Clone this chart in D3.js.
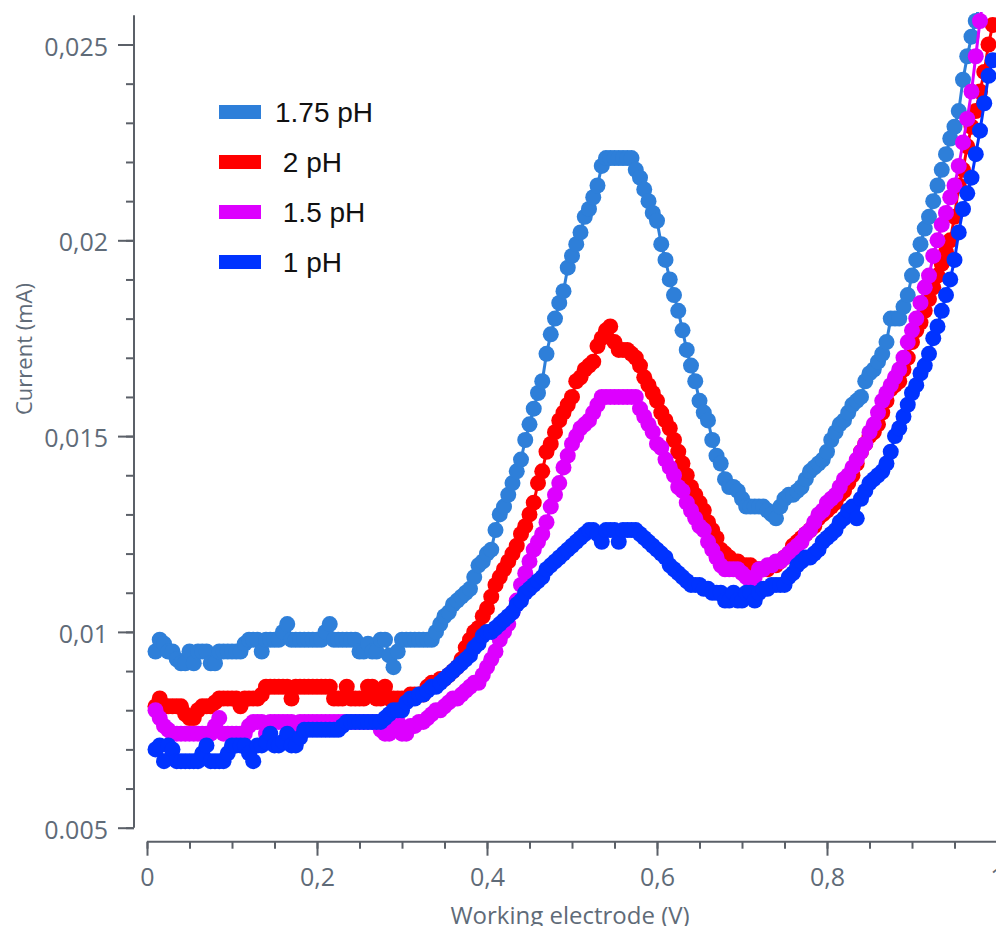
<!DOCTYPE html>
<html>
<head>
<meta charset="utf-8">
<script src="https://cdn.jsdelivr.net/npm/d3@7"></script>
<style>
  body { margin: 0; background: #fff; }
  svg { display: block; }
</style>
</head>
<body>
<svg id="chart" width="996" height="926"></svg>
<script>
// sampled potential (V)
const voltage = [
  0.01,0.015,0.02,0.025,0.03,0.035,0.04,0.045,0.05,0.055,0.06,0.065,0.07,0.075,0.08,0.085,0.09,0.095,0.1,0.105,
  0.11,0.115,0.12,0.125,0.13,0.135,0.14,0.145,0.15,0.155,0.16,0.165,0.17,0.175,0.18,0.185,0.19,0.195,0.2,0.205,
  0.21,0.215,0.22,0.225,0.23,0.235,0.24,0.245,0.25,0.255,0.26,0.265,0.27,0.275,0.28,0.285,0.29,0.295,0.3,0.305,
  0.31,0.315,0.32,0.325,0.33,0.335,0.34,0.345,0.35,0.355,0.36,0.365,0.37,0.375,0.38,0.385,0.39,0.395,0.4,0.405,
  0.41,0.415,0.42,0.425,0.43,0.435,0.44,0.445,0.45,0.455,0.46,0.465,0.47,0.475,0.48,0.485,0.49,0.495,0.5,0.505,
  0.51,0.515,0.52,0.525,0.53,0.535,0.54,0.545,0.55,0.555,0.56,0.565,0.57,0.575,0.58,0.585,0.59,0.595,0.6,0.605,
  0.61,0.615,0.62,0.625,0.63,0.635,0.64,0.645,0.65,0.655,0.66,0.665,0.67,0.675,0.68,0.685,0.69,0.695,0.7,0.705,
  0.71,0.715,0.72,0.725,0.73,0.735,0.74,0.745,0.75,0.755,0.76,0.765,0.77,0.775,0.78,0.785,0.79,0.795,0.8,0.805,
  0.81,0.815,0.82,0.825,0.83,0.835,0.84,0.845,0.85,0.855,0.86,0.865,0.87,0.875,0.88,0.885,0.89,0.895,0.9,0.905,
  0.91,0.915,0.92,0.925,0.93,0.935,0.94,0.945,0.95,0.955,0.96,0.965,0.97,0.975,0.98,0.985,0.99,0.995
];

// current (mA) for each series, same order as voltage
const ph175 = [
  0.0095,0.0098,0.0097,0.0095,0.0095,0.0093,0.0092,0.0092,0.0095,0.0092,0.0095,0.0095,0.0095,0.0092,0.0092,0.0095,0.0095,0.0095,0.0095,0.0095,
  0.0095,0.0097,0.0098,0.0098,0.0098,0.0095,0.0098,0.0098,0.0098,0.0098,0.0100,0.0102,0.0098,0.0098,0.0098,0.0098,0.0098,0.0098,0.0098,0.0098,
  0.0100,0.0102,0.0098,0.0098,0.0098,0.0098,0.0098,0.0098,0.0095,0.0095,0.0097,0.0095,0.0095,0.0098,0.0098,0.0094,0.0091,0.0095,0.0098,0.0098,
  0.0098,0.0098,0.0098,0.0098,0.0098,0.0098,0.0100,0.0102,0.0104,0.0105,0.0107,0.0108,0.0109,0.0110,0.0111,0.0114,0.0117,0.0118,0.0120,0.0121,
  0.0126,0.0130,0.0132,0.0135,0.0138,0.0141,0.0144,0.0149,0.0153,0.0157,0.0161,0.0164,0.0171,0.0176,0.0180,0.0184,0.0187,0.0193,0.0196,0.0199,
  0.0202,0.0206,0.0208,0.0211,0.0214,0.0219,0.0221,0.0221,0.0221,0.0221,0.0221,0.0221,0.0221,0.0218,0.0216,0.0213,0.0210,0.0207,0.0205,0.0199,
  0.0195,0.0190,0.0186,0.0182,0.0177,0.0172,0.0168,0.0164,0.0159,0.0156,0.0154,0.0149,0.0145,0.0143,0.0139,0.0137,0.0137,0.0136,0.0134,0.0132,
  0.0132,0.0132,0.0132,0.0132,0.0131,0.0130,0.0129,0.0132,0.0134,0.0135,0.0135,0.0136,0.0137,0.0139,0.0141,0.0142,0.0143,0.0144,0.0146,0.0149,
  0.0151,0.0153,0.0154,0.0156,0.0158,0.0159,0.0160,0.0164,0.0166,0.0167,0.0169,0.0171,0.0174,0.0180,0.0180,0.0180,0.0183,0.0186,0.0191,0.0195,
  0.0199,0.0203,0.0206,0.0210,0.0214,0.0218,0.0222,0.0226,0.0229,0.0233,0.0241,0.0247,0.0252,0.0256,0.0261,0.0268
];
const ph2 = [
  0.0081,0.0083,0.0081,0.0081,0.0081,0.0081,0.0081,0.0079,0.0078,0.0078,0.0080,0.0081,0.0081,0.0081,0.0082,0.0083,0.0083,0.0083,0.0083,0.0083,
  0.0081,0.0083,0.0083,0.0083,0.0083,0.0084,0.0086,0.0086,0.0086,0.0086,0.0086,0.0086,0.0083,0.0086,0.0086,0.0086,0.0086,0.0086,0.0086,0.0086,
  0.0086,0.0086,0.0083,0.0083,0.0083,0.0086,0.0083,0.0083,0.0083,0.0083,0.0086,0.0086,0.0083,0.0083,0.0086,0.0083,0.0083,0.0083,0.0083,0.0083,
  0.0084,0.0084,0.0084,0.0084,0.0086,0.0087,0.0087,0.0088,0.0088,0.0089,0.0090,0.0091,0.0093,0.0096,0.0098,0.0100,0.0101,0.0104,0.0106,0.0109,
  0.0112,0.0114,0.0116,0.0118,0.0120,0.0122,0.0125,0.0127,0.0130,0.0133,0.0138,0.0141,0.0146,0.0148,0.0151,0.0154,0.0156,0.0158,0.0160,0.0164,
  0.0165,0.0167,0.0168,0.0169,0.0173,0.0175,0.0177,0.0178,0.0174,0.0172,0.0172,0.0172,0.0171,0.0170,0.0168,0.0165,0.0163,0.0161,0.0159,0.0156,
  0.0154,0.0152,0.0149,0.0146,0.0143,0.0140,0.0137,0.0135,0.0133,0.0131,0.0128,0.0126,0.0124,0.0121,0.0120,0.0119,0.0118,0.0118,0.0117,0.0117,
  0.0117,0.0116,0.0116,0.0116,0.0116,0.0117,0.0117,0.0118,0.0119,0.0120,0.0122,0.0123,0.0124,0.0125,0.0126,0.0127,0.0129,0.0130,0.0131,0.0132,
  0.0133,0.0135,0.0136,0.0138,0.0140,0.0143,0.0146,0.0148,0.0150,0.0151,0.0153,0.0156,0.0159,0.0162,0.0163,0.0164,0.0167,0.0170,0.0174,0.0177,
  0.0179,0.0182,0.0185,0.0188,0.0191,0.0194,0.0197,0.0200,0.0206,0.0214,0.0218,0.0224,0.0229,0.0233,0.0238,0.0243,0.0250,0.0255
];
const ph15 = [
  0.0080,0.0078,0.0076,0.0075,0.0074,0.0074,0.0074,0.0074,0.0074,0.0074,0.0074,0.0074,0.0074,0.0074,0.0076,0.0078,0.0074,0.0074,0.0074,0.0074,
  0.0074,0.0074,0.0076,0.0077,0.0077,0.0077,0.0074,0.0077,0.0077,0.0077,0.0077,0.0077,0.0077,0.0074,0.0077,0.0077,0.0077,0.0077,0.0077,0.0077,
  0.0077,0.0077,0.0077,0.0077,0.0077,0.0077,0.0077,0.0077,0.0077,0.0077,0.0077,0.0077,0.0077,0.0075,0.0074,0.0074,0.0077,0.0077,0.0074,0.0074,
  0.0076,0.0076,0.0077,0.0077,0.0078,0.0079,0.0080,0.0080,0.0081,0.0082,0.0083,0.0083,0.0084,0.0085,0.0086,0.0087,0.0087,0.0089,0.0091,0.0093,
  0.0095,0.0098,0.0100,0.0102,0.0105,0.0108,0.0112,0.0115,0.0118,0.0121,0.0123,0.0125,0.0128,0.0132,0.0135,0.0138,0.0142,0.0145,0.0148,0.0150,
  0.0152,0.0153,0.0154,0.0156,0.0158,0.0160,0.0160,0.0160,0.0160,0.0160,0.0160,0.0160,0.0160,0.0160,0.0157,0.0155,0.0153,0.0151,0.0148,0.0147,
  0.0144,0.0142,0.0140,0.0137,0.0136,0.0133,0.0131,0.0129,0.0127,0.0126,0.0123,0.0121,0.0119,0.0117,0.0116,0.0116,0.0116,0.0116,0.0115,0.0114,
  0.0113,0.0114,0.0116,0.0116,0.0117,0.0117,0.0118,0.0118,0.0119,0.0120,0.0121,0.0122,0.0123,0.0125,0.0126,0.0128,0.0130,0.0131,0.0133,0.0134,
  0.0135,0.0137,0.0139,0.0140,0.0142,0.0144,0.0146,0.0148,0.0151,0.0153,0.0156,0.0159,0.0161,0.0163,0.0165,0.0167,0.0170,0.0174,0.0177,0.0180,
  0.0184,0.0188,0.0191,0.0196,0.0200,0.0204,0.0207,0.0211,0.0214,0.0219,0.0225,0.0231,0.0238,0.0247,0.0256,0.0264
];
const ph1 = [
  0.0070,0.0071,0.0067,0.0071,0.0070,0.0067,0.0067,0.0067,0.0067,0.0067,0.0067,0.0069,0.0071,0.0067,0.0067,0.0067,0.0067,0.0069,0.0071,0.0071,
  0.0071,0.0071,0.0069,0.0067,0.0071,0.0071,0.0072,0.0074,0.0071,0.0071,0.0072,0.0074,0.0071,0.0071,0.0073,0.0075,0.0075,0.0075,0.0075,0.0075,
  0.0075,0.0075,0.0075,0.0075,0.0076,0.0077,0.0077,0.0077,0.0077,0.0077,0.0077,0.0077,0.0077,0.0077,0.0078,0.0079,0.0080,0.0080,0.0080,0.0082,
  0.0083,0.0083,0.0084,0.0084,0.0085,0.0086,0.0086,0.0087,0.0088,0.0089,0.0090,0.0091,0.0092,0.0093,0.0094,0.0096,0.0097,0.0099,0.0100,0.0100,
  0.0101,0.0102,0.0103,0.0104,0.0105,0.0107,0.0108,0.0110,0.0111,0.0112,0.0113,0.0114,0.0116,0.0117,0.0118,0.0119,0.0120,0.0121,0.0122,0.0123,
  0.0124,0.0125,0.0126,0.0126,0.0125,0.0123,0.0126,0.0126,0.0126,0.0123,0.0126,0.0126,0.0126,0.0126,0.0125,0.0124,0.0123,0.0122,0.0121,0.0120,
  0.0119,0.0117,0.0116,0.0115,0.0114,0.0113,0.0112,0.0112,0.0112,0.0111,0.0111,0.0110,0.0110,0.0110,0.0108,0.0108,0.0110,0.0108,0.0108,0.0110,
  0.0110,0.0108,0.0110,0.0111,0.0111,0.0112,0.0112,0.0112,0.0112,0.0114,0.0115,0.0117,0.0118,0.0119,0.0119,0.0120,0.0121,0.0123,0.0124,0.0125,
  0.0126,0.0128,0.0129,0.0131,0.0132,0.0129,0.0134,0.0136,0.0138,0.0139,0.0140,0.0141,0.0143,0.0146,0.0150,0.0152,0.0155,0.0158,0.0161,0.0163,
  0.0166,0.0168,0.0171,0.0175,0.0178,0.0182,0.0186,0.0190,0.0195,0.0202,0.0208,0.0212,0.0216,0.0222,0.0228,0.0235,0.0242,0.0246
];

const seriesNames = ["1.75 pH", " 2 pH", " 1.5 pH", " 1 pH"];
const seriesValues = [ph175, ph2, ph15, ph1];
const seriesColors = ["#2e7fd9", "#ff0000", "#dd00ff", "#0033ff"];

const yTicks = [0.005, 0.01, 0.015, 0.02, 0.025];
const yTickLabels = ["0.005", "0,01", "0,015", "0,02", "0,025"];
const xTicks = [0, 0.2, 0.4, 0.6, 0.8, 1];
const xTickLabels = ["0", "0,2", "0,4", "0,6", "0,8", "1"];

const svg = d3.select("#chart");
const textColor = "#5f6b78";
const axisColor = "#5b6068";
const tickFont = "'Open Sans', 'Noto Sans', sans-serif";

//scales
const x = d3.scaleLinear().domain([0, 1]).range([147, 997]);
const y = d3.scaleLinear().domain([0.005, 0.025]).range([827.7, 44.5]);

//clip for the plot area
svg.append("clipPath").attr("id", "plotClip")
  .append("rect")
  .attr("x", 134).attr("y", 12)
  .attr("width", 862).attr("height", 829);

//y-axis minor ticks
const yMinor = svg.append("g")
  .attr("transform", "translate(134,0)")
  .call(d3.axisLeft(y).tickValues(d3.range(0.005, 0.0251, 0.001)).tickSize(8).tickFormat(""));
yMinor.select(".domain").remove();

//y-axis major ticks
const yAxis = svg.append("g")
  .attr("transform", "translate(134,0)")
  .call(d3.axisLeft(y).tickValues(yTicks).tickSize(16).tickPadding(10)
    .tickFormat((d, i) => yTickLabels[i]));
yAxis.select(".domain").remove();

svg.append("line")
  .attr("x1", 134).attr("x2", 134)
  .attr("y1", y(0.02575)).attr("y2", y(0.005));

//x-axis minor ticks
const xMinor = svg.append("g")
  .attr("transform", "translate(0,841.7)")
  .call(d3.axisBottom(x).tickValues(d3.range(0, 1.001, 0.05)).tickSize(7).tickFormat(""));
xMinor.select(".domain").remove();

//x-axis major ticks
const xAxis = svg.append("g")
  .attr("transform", "translate(0,841.7)")
  .call(d3.axisBottom(x).tickValues(xTicks).tickSize(14).tickPadding(13)
    .tickFormat((d, i) => xTickLabels[i]));
xAxis.select(".domain").remove();

svg.append("line")
  .attr("x1", x(0)).attr("x2", 996)
  .attr("y1", 841.7).attr("y2", 841.7);

svg.selectAll("g line, svg > line")
  .attr("stroke", axisColor)
  .attr("stroke-width", 2);

svg.selectAll("g text")
  .attr("fill", textColor)
  .style("font-family", tickFont)
  .style("font-size", "25px");
yAxis.selectAll("text").attr("dy", "0.42em");

//axis titles
svg.append("text")
  .attr("x", 570)
  .attr("y", 924)
  .attr("text-anchor", "middle")
  .attr("fill", textColor)
  .style("font-family", tickFont)
  .style("font-size", "24px")
  .text("Working electrode (V)");

svg.append("text")
  .attr("transform", "translate(32,349) rotate(-90)")
  .attr("text-anchor", "middle")
  .attr("fill", textColor)
  .style("font-family", tickFont)
  .style("font-size", "22px")
  .text("Current (mA)");

//series: connecting line plus dots
const plot = svg.append("g").attr("clip-path", "url(#plotClip)");
const line = d3.line()
  .x((d, i) => x(voltage[i]))
  .y(d => y(d));

seriesValues.forEach((vals, s) => {
  const g = plot.append("g");
  g.append("path")
    .datum(vals)
    .attr("fill", "none")
    .attr("stroke", seriesColors[s])
    .attr("stroke-width", 3)
    .attr("d", line);
  g.selectAll("circle")
    .data(vals)
    .enter()
    .append("circle")
    .attr("cx", (d, i) => x(voltage[i]))
    .attr("cy", d => y(d))
    .attr("r", 8)
    .attr("fill", seriesColors[s]);
});

//legend
const legend = svg.selectAll(".legend")
  .data(seriesNames)
  .enter()
  .append("g")
  .attr("class", "legend")
  .attr("transform", (d, i) => `translate(219,${112 + i * 50})`);

legend.append("rect")
  .attr("y", -7)
  .attr("width", 42)
  .attr("height", 14)
  .attr("fill", (d, i) => seriesColors[i]);

legend.append("text")
  .attr("x", 56)
  .attr("y", 10)
  .attr("fill", "#111")
  .style("font-family", "'Liberation Sans', Arial, sans-serif")
  .style("font-size", "28px")
  .style("white-space", "pre")
  .text(d => d);
</script>
</body>
</html>
